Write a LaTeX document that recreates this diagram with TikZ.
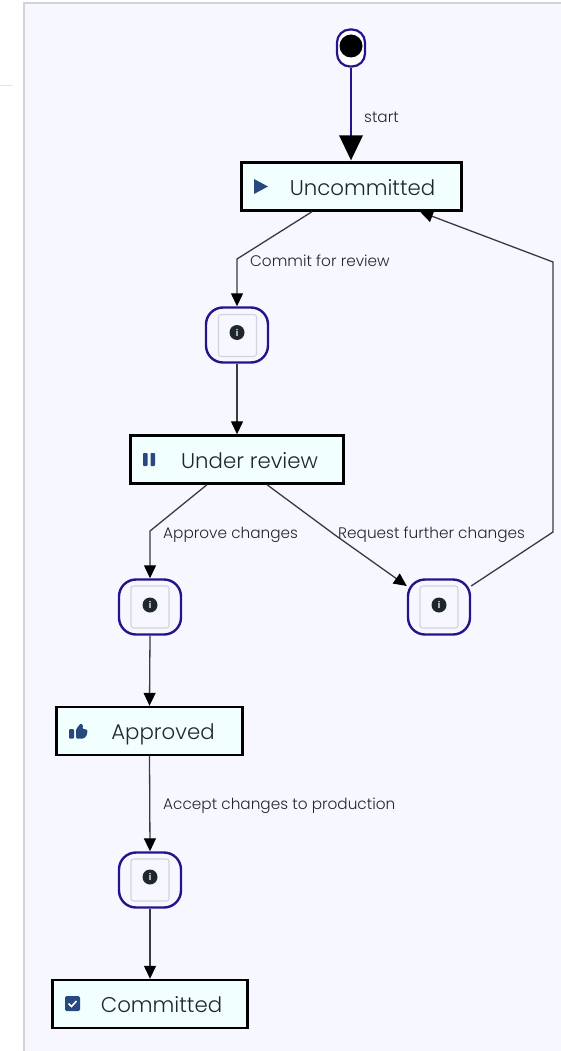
\documentclass[tikz,border=0pt]{standalone}
\usepackage{fontspec}
\setmainfont{Poppins Light}
\usetikzlibrary{arrows.meta,calc}
\definecolor{panel}{HTML}{F7F8FF}
\definecolor{panelline}{HTML}{D4D4D8}
\definecolor{boxfill}{HTML}{F1FFFE}
\definecolor{ink}{HTML}{20272C}
\definecolor{purple}{HTML}{22148A}
\definecolor{iconblue}{HTML}{27497F}
\definecolor{edgeline}{HTML}{3A3A42}
\definecolor{innerline}{HTML}{D2D3DF}
\tikzset{
  statebox/.style={draw=black,line width=2.4pt,fill=boxfill,text=ink,font=\fontsize{21.3}{24}\selectfont,inner sep=0pt,minimum height=48pt,anchor=center,text height=18pt,text depth=1pt},
  infonode/.style={draw=purple,line width=2.4pt,fill=panel,rounded corners=17pt,minimum width=62pt,minimum height=55pt,inner sep=0pt},
  infoinner/.style={draw=innerline,line width=1.1pt,fill=panel,rounded corners=2.5pt,minimum width=38pt,minimum height=42pt,inner sep=0pt},
  infodot/.style={circle,fill=ink,minimum size=15pt,inner sep=0pt,text=white,font=\bfseries\fontsize{9}{9}\selectfont},
  edgelabel/.style={text=ink,font=\fontsize{15.3}{16}\selectfont,inner sep=0pt,anchor=west},
  flow/.style={draw=edgeline,line width=1.3pt,-{Triangle[length=13pt,width=12pt,fill=black,color=black]}},
}
\begin{document}
\begin{tikzpicture}[x=1pt,y=-1pt]
\useasboundingbox (0,0) rectangle (561,1051);
\fill[white] (0,0) rectangle (561,1051);
\fill[panel] (24,3) rectangle (561,1051);
\draw[panelline,line width=1.4pt] (561,3) -- (24,3) -- (24,1051);
\draw[black!10,line width=1pt] (0,86) -- (13,86);

% nodes
\node[draw=purple,line width=2.2pt,fill=white,rounded corners=13pt,minimum width=28pt,minimum height=37pt,inner sep=0pt] (start) at (351,48) {};
\node[circle,fill=black,minimum size=23pt,inner sep=0pt] (startdot) at (351,46) {};
\node[statebox,minimum width=220pt] (unc) at (351.5,186.5) {\hspace*{22pt}Uncommitted};
\node[statebox,minimum width=213pt] (rev) at (237,459.5) {\hspace*{25pt}Under review};
\node[statebox,minimum width=186pt] (app) at (149.5,731) {\hspace*{27pt}Approved};
\node[statebox,minimum width=195pt] (com) at (150,1004) {\hspace*{23pt}Committed};

\node[infonode] (i1) at (237,335) {};
\node[infoinner] (i1b) at (237.5,335.5) {};
\node[infodot] (i1d) at (237,332.5) {i};
\node[infonode] (i2) at (150,607) {};
\node[infoinner] (i2b) at (150,607) {};
\node[infodot] (i2d) at (150,605) {i};
\node[infonode] (i3) at (439,607) {};
\node[infoinner] (i3b) at (439,607) {};
\node[infodot] (i3d) at (439,605) {i};
\node[infonode] (i4) at (150,880) {};
\node[infoinner] (i4b) at (150,880) {};
\node[infodot] (i4d) at (150,877) {i};

% state icons
\fill[iconblue] (254,179) -- (268,186.5) -- (254,194) -- cycle;
\fill[iconblue,rounded corners=0.8pt] (143,453) rectangle (147.5,466);
\fill[iconblue,rounded corners=0.8pt] (150.5,453) rectangle (155,466);
\fill[iconblue,rounded corners=1pt] (69,729) rectangle (74,738.5);
\fill[iconblue,rounded corners=1.2pt] (76,729.5) -- (80,724) -- (81,724) -- (83,724.5) -- (82.5,729) -- (87.5,729.5) -- (87,735) -- (84,738.5) -- (76,738.5) -- cycle;
\fill[iconblue,rounded corners=1.5pt] (65,996) rectangle (80,1011);
\draw[white,line width=1.6pt] (68.5,1003.5) -- (71.5,1006.5) -- (76.5,1001);

% waypoints
\coordinate (w1) at (237,259);
\coordinate (w2) at (150,531);
\coordinate (w3) at (553,532);
\coordinate (w4) at (553,262);
\coordinate (w5) at (335,535);

% connectors
\draw[draw=purple,line width=2.4pt] (start.south) -- ($(unc.north)+(-0.5,-24)$);
\fill[black] ($(unc.north)+(-0.5,-1)$) -- ++(-12,-25) -- ++(24,0) -- cycle;
\draw[flow] ([xshift=-39.5pt]unc.south) -- (w1) -- (i1.north);
\draw[flow] (i1.south) -- (rev.north);
\draw[flow] ([xshift=-30pt]rev.south) -- (w2) -- (i2.north);
\draw[flow] ([xshift=30pt]rev.south) -- (w5) -- ([yshift=21pt]i3.west);
\draw[flow] (i2.south) -- (app.north);
\draw[flow] (app.south) -- (i4.north);
\draw[flow] (i4.south) -- (com.north);
\draw[flow] ([yshift=21pt]i3.east) -- (w3) -- (w4) -- ([xshift=68.5pt]unc.south);

% labels
\node[edgelabel] (lstart) at (364,117.5) {start};
\node[edgelabel] (l1) at (250,261) {Commit for review};
\node[edgelabel] (l2) at (163,534.5) {Approve changes};
\node[edgelabel] (l3) at (338,534.5) {Request further changes};
\node[edgelabel] (l4) at (163,806) {Accept changes to production};
\end{tikzpicture}
\end{document}
